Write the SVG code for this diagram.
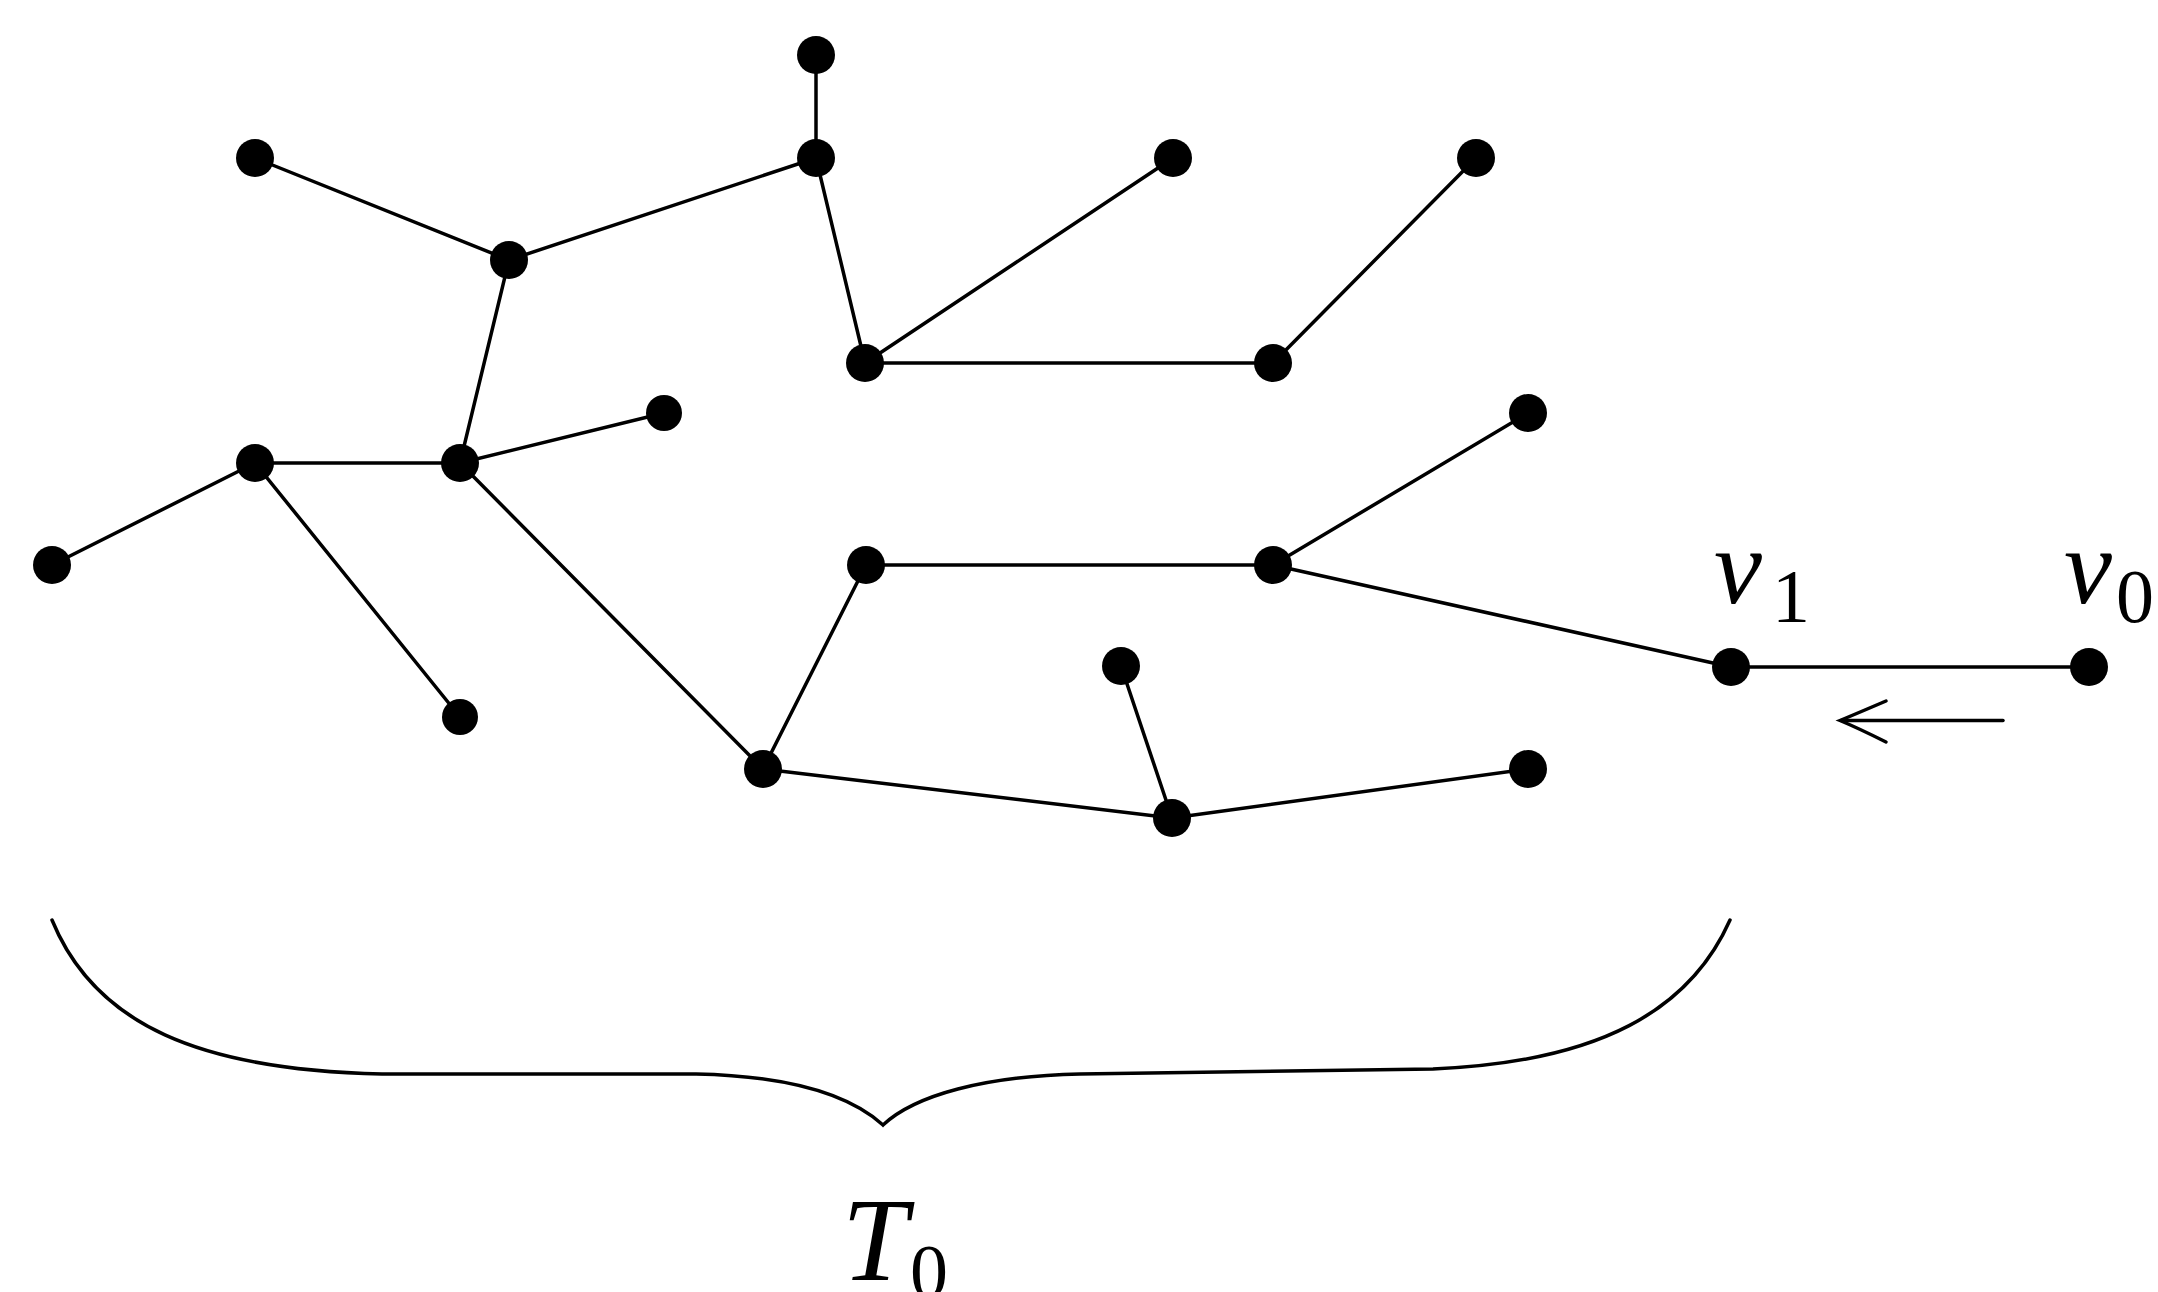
<svg xmlns="http://www.w3.org/2000/svg" width="2158" height="1292" viewBox="0 0 2158 1292">
<style>
.e{stroke:#000;stroke-width:3.5;fill:none;stroke-linecap:round}
.n{fill:#000}
.m{font-family:"Liberation Serif",serif;font-style:italic;fill:#000}
.s{font-family:"Liberation Serif",serif;fill:#000}
</style>
<rect width="2158" height="1292" fill="#fff"/>
<g id="edges">
<line class="e" x1="816" y1="55" x2="816" y2="158"/>
<line class="e" x1="816" y1="158" x2="509" y2="260"/>
<line class="e" x1="255" y1="158" x2="509" y2="260"/>
<line class="e" x1="816" y1="158" x2="865" y2="363"/>
<line class="e" x1="1173" y1="158" x2="865" y2="363"/>
<line class="e" x1="865" y1="363" x2="1273" y2="363"/>
<line class="e" x1="1273" y1="363" x2="1476" y2="158"/>
<line class="e" x1="509" y1="260" x2="460" y2="463"/>
<line class="e" x1="255" y1="463" x2="460" y2="463"/>
<line class="e" x1="460" y1="463" x2="664" y2="413"/>
<line class="e" x1="255" y1="463" x2="52" y2="565"/>
<line class="e" x1="255" y1="463" x2="460" y2="717"/>
<line class="e" x1="460" y1="463" x2="763" y2="769"/>
<line class="e" x1="763" y1="769" x2="866" y2="565"/>
<line class="e" x1="866" y1="565" x2="1273" y2="565"/>
<line class="e" x1="1273" y1="565" x2="1528" y2="413"/>
<line class="e" x1="1273" y1="565" x2="1731" y2="667"/>
<line class="e" x1="1731" y1="667" x2="2089" y2="667"/>
<line class="e" x1="763" y1="769" x2="1172" y2="818"/>
<line class="e" x1="1121" y1="666" x2="1172" y2="818"/>
<line class="e" x1="1172" y1="818" x2="1528" y2="769"/>
</g>
<g id="n1"><circle class="n" cx="816" cy="55" r="19"/></g>
<g id="n2"><circle class="n" cx="816" cy="158" r="19"/></g>
<g id="n3"><circle class="n" cx="255" cy="158" r="19"/></g>
<g id="n4"><circle class="n" cx="1173" cy="158" r="19"/></g>
<g id="n5"><circle class="n" cx="1476" cy="158" r="19"/></g>
<g id="n6"><circle class="n" cx="509" cy="260" r="19"/></g>
<g id="n7"><circle class="n" cx="865" cy="363" r="19"/></g>
<g id="n8"><circle class="n" cx="1273" cy="363" r="19"/></g>
<g id="n9"><circle class="n" cx="664" cy="413" r="18"/></g>
<g id="n10"><circle class="n" cx="1528" cy="413" r="19"/></g>
<g id="n11"><circle class="n" cx="255" cy="463" r="19"/></g>
<g id="n12"><circle class="n" cx="460" cy="463" r="19"/></g>
<g id="n13"><circle class="n" cx="52" cy="565" r="19"/></g>
<g id="n14"><circle class="n" cx="866" cy="565" r="19"/></g>
<g id="n15"><circle class="n" cx="1273" cy="565" r="19"/></g>
<g id="n16"><circle class="n" cx="460" cy="717" r="18"/></g>
<g id="n17"><circle class="n" cx="1121" cy="666" r="19"/></g>
<g id="n18"><circle class="n" cx="1731" cy="667" r="19"/>
<text class="m" x="1714" y="603" font-size="108">v</text><text class="s" x="1772" y="622" font-size="76">1</text></g>
<g id="n19"><circle class="n" cx="2089" cy="667" r="19"/>
<text class="m" x="2064" y="603" font-size="108">v</text><text class="s" x="2116" y="622" font-size="76">0</text></g>
<g id="n20"><circle class="n" cx="763" cy="769" r="19"/></g>
<g id="n21"><circle class="n" cx="1528" cy="769" r="19"/></g>
<g id="n22"><circle class="n" cx="1172" cy="818" r="19"/></g>
<g id="arrow">
<line class="e" x1="1841" y1="720.5" x2="2003" y2="720.5"/>
<path class="e" stroke-width="4.5" d="M1886,701 Q1858,713 1840,720.5 Q1858,728 1886,742"/>
</g>
<g id="brace">
<path class="e" d="M52,920 C95,1025 200,1070 382,1074 L696,1074 C790,1076 850,1095 883,1125 C915,1095 985,1076 1080,1074 L1433,1069 C1600,1062 1690,1010 1730,920"/>
<text class="m" x="842" y="1280" font-size="118">T</text><text class="s" x="910" y="1297" font-size="76">0</text>
</g>
</svg>
